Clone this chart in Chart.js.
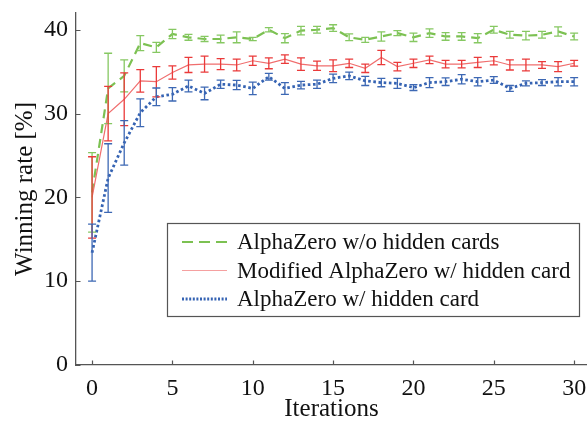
<!DOCTYPE html>
<html>
<head>
<meta charset="utf-8">
<script src="https://cdn.jsdelivr.net/npm/chart.js@4.4.1/dist/chart.umd.min.js"></script>
<style>
html,body{margin:0;padding:0;background:#fff;}
#wrap{width:587px;height:430px;position:relative;}
</style>
</head>
<body>
<div id="wrap"><canvas id="c" width="587" height="430"></canvas></div>
<script>
const iterations = [0,1,2,3,4,5,6,7,8,9,10,11,12,13,14,15,16,17,18,19,20,21,22,23,24,25,26,27,28,29,30];
const xTickValues = [0,5,10,15,20,25,30];
const yTickValues = [0,10,20,30,40];
const seriesLabels = ['AlphaZero w/o hidden cards','Modified AlphaZero w/ hidden card','AlphaZero w/ hidden card'];

const greenMean = [20.6,33.0,34.5,38.4,37.9,39.5,39.1,38.9,38.9,39.1,38.9,40.0,39.0,39.9,40.0,40.2,39.1,38.8,39.2,39.6,39.1,39.6,39.2,39.2,39.0,40.0,39.4,39.3,39.4,39.8,39.2];
const greenErr  = [4.75,4.2,1.9,0.9,0.6,0.55,0.35,0.3,0.45,0.65,0.2,0.25,0.55,0.5,0.4,0.4,0.4,0.3,0.55,0.3,0.5,0.5,0.45,0.45,0.55,0.4,0.4,0.5,0.4,0.55,0.4];

const redMean = [20.0,30.0,31.7,33.9,33.8,34.9,35.8,35.9,35.9,35.8,36.3,36.0,36.5,35.9,35.7,35.7,36.0,35.4,36.7,35.6,36.0,36.4,35.9,35.9,36.1,36.3,35.8,35.8,35.8,35.6,36.0];
const redErr  = [4.85,3.25,3.15,1.35,1.8,0.8,0.9,0.95,0.65,0.7,0.55,0.65,0.5,0.75,0.55,0.7,0.5,0.5,0.85,0.5,0.5,0.45,0.45,0.45,0.6,0.5,0.6,0.7,0.4,0.6,0.35];

const blueMean = [13.4,22.3,26.5,30.1,32.0,32.3,33.3,32.4,33.5,33.4,33.0,34.4,33.0,33.4,33.5,34.2,34.5,33.9,33.7,33.6,33.1,33.7,33.8,34.1,33.8,34.0,33.0,33.6,33.7,33.8,33.8];
const blueErr  = [3.4,4.1,2.65,1.65,1.05,0.8,0.7,0.75,0.5,0.55,0.75,0.4,0.7,0.45,0.5,0.5,0.45,0.55,0.5,0.6,0.35,0.6,0.45,0.55,0.5,0.4,0.35,0.3,0.35,0.5,0.5];

const FONT = '"Liberation Serif", "Times New Roman", serif';

function pts(mean){ return iterations.map((x,i)=>({x:x,y:mean[i]})); }

const datasets = [
  {label: seriesLabels[0], data: pts(greenMean), errs: greenErr, borderColor:'#7cc152', errColor:'#86c862', borderWidth:2.2, borderDash:[9,6], order:3, legendColor:'#7cc152'},
  {label: seriesLabels[1], data: pts(redMean), errs: redErr, borderColor:'#f06e6e', errColor:'#ea3a3a', borderWidth:1.2, borderDash:[], order:2, legendColor:'#f5a0a0'},
  {label: seriesLabels[2], data: pts(blueMean), errs: blueErr, borderColor:'#3563b3', errColor:'#3d68b4', borderWidth:2.8, borderDash:[2.6,2.6], order:1, legendColor:'#3563b3'}
].map(d=>Object.assign(d,{pointRadius:0, fill:false, tension:0}));

const errorBars = {
  id:'errorBars',
  afterDatasetsDraw(chart){
    const ctx = chart.ctx, xs = chart.scales.x, ys = chart.scales.y;
    ctx.save();
    [0,1,2].forEach(di=>{
      const ds = chart.data.datasets[di];
      ctx.strokeStyle = ds.errColor;
      ctx.lineWidth = 1.3;
      ctx.setLineDash([]);
      ds.data.forEach((p,i)=>{
        const px = xs.getPixelForValue(p.x);
        const yt = ys.getPixelForValue(p.y + ds.errs[i]);
        const yb = ys.getPixelForValue(p.y - ds.errs[i]);
        ctx.beginPath();
        ctx.moveTo(px,yt); ctx.lineTo(px,yb);
        ctx.moveTo(px-4,yt); ctx.lineTo(px+4,yt);
        ctx.moveTo(px-4,yb); ctx.lineTo(px+4,yb);
        ctx.stroke();
      });
    });
    ctx.restore();
  }
};

const inwardTicks = {
  id:'inwardTicks',
  afterDraw(chart){
    const ctx = chart.ctx, xs = chart.scales.x, ys = chart.scales.y, a = chart.chartArea;
    ctx.save();
    ctx.strokeStyle = '#555';
    ctx.lineWidth = 1.2;
    ctx.beginPath();
    xTickValues.forEach(v=>{ const px = Math.round(xs.getPixelForValue(v))+0.5; ctx.moveTo(px,a.bottom); ctx.lineTo(px,a.bottom-4.5); });
    yTickValues.forEach(v=>{ const py = Math.round(ys.getPixelForValue(v))+0.5; ctx.moveTo(a.left,py); ctx.lineTo(a.left+4.5,py); });
    ctx.stroke();
    ctx.restore();
  }
};

const boxLegend = {
  id:'boxLegend',
  afterDraw(chart){
    const ctx = chart.ctx, a = chart.chartArea;
    const L = a.left + 91, T = a.top + 210, R = a.left + 503, B = a.top + 303;
    ctx.save();
    ctx.fillStyle = '#fff';
    ctx.fillRect(L,T,R-L,B-T);
    ctx.strokeStyle = '#555';
    ctx.lineWidth = 1.2;
    ctx.strokeRect(L+0.5,T+0.5,R-L,B-T);
    ctx.font = '23px ' + FONT;
    ctx.textBaseline = 'middle';
    ctx.textAlign = 'left';
    chart.data.datasets.forEach((ds,i)=>{
      const cy = T + 19 + i*28.5;
      ctx.beginPath();
      ctx.strokeStyle = ds.legendColor;
      ctx.lineWidth = ds.borderWidth;
      ctx.setLineDash(i===0?[11,6]:(i===2?[2,1.6]:[]));
      ctx.moveTo(L+15, cy); ctx.lineTo(L+60, cy);
      ctx.stroke();
      ctx.setLineDash([]);
      ctx.fillStyle = '#111';
      ctx.fillText(ds.label, L+70, cy+1);
    });
    ctx.restore();
  }
};

function noPad(s){ s.paddingTop = 0; s.paddingBottom = 0; s.paddingLeft = 0; s.paddingRight = 0; }

new Chart(document.getElementById('c'), {
  type:'line',
  data:{datasets: datasets},
  options:{
    responsive:false,
    animation:false,
    events:[],
    layout:{padding:{top:13,right:0,left:0,bottom:0}},
    plugins:{legend:{display:false}, tooltip:{enabled:false}},
    scales:{
      x:{
        type:'linear', min:-1, max:30.8,
        afterFit(s){ s.height = 65; noPad(s); },
        afterBuildTicks(s){ s.ticks = xTickValues.map(v=>({value:v})); },
        grid:{display:false, drawTicks:false},
        border:{display:true, color:'#555', width:1.3},
        ticks:{padding:9, color:'#111', font:{family:FONT, size:24}, maxRotation:0, autoSkip:false},
        title:{display:true, text:'Iterations', color:'#111', font:{family:FONT, size:25}, padding:{top:0,bottom:6}}
      },
      y:{
        type:'linear', min:0, max:42,
        afterFit(s){ s.width = 76; noPad(s); },
        afterBuildTicks(s){ s.ticks = yTickValues.map(v=>({value:v})); },
        grid:{display:false, drawTicks:false},
        border:{display:true, color:'#555', width:1.3},
        ticks:{padding:8, color:'#111', font:{family:FONT, size:24}},
        title:{display:true, text:'Winning rate [%]', color:'#111', font:{family:FONT, size:25}, padding:{top:10,bottom:0}}
      }
    }
  },
  plugins:[errorBars, inwardTicks, boxLegend]
});
</script>
</body>
</html>
